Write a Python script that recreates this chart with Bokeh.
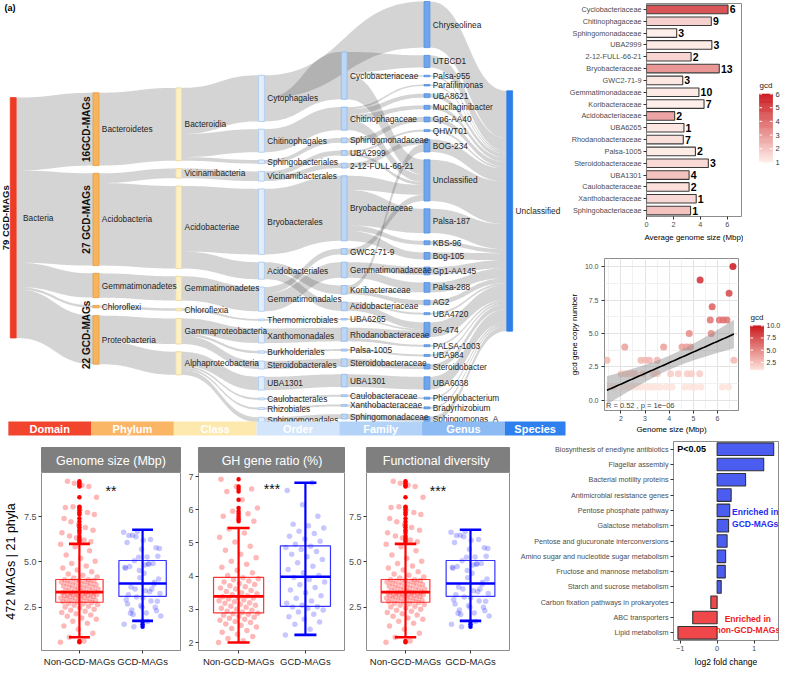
import numpy as np
from collections import defaultdict
from bokeh.plotting import figure
from bokeh.models import (Range1d, FactorRange, LinearColorMapper, FixedTicker, Label,
                          PrintfTickFormatter, ColumnDataSource)
from bokeh.layouts import row, column
from bokeh.embed import file_html
from bokeh.resources import INLINE
from bokeh.core.properties import value

FONT = "Liberation Sans"

# ------------------------------------------------------------------ (a) Sankey data
stage_names = ["Domain", "Phylum", "Class", "Order", "Family", "Genus", "Species"]
domain_nodes = ["Bacteria"]
domain_vals = [99]
phylum_nodes = ["Bacteroidetes", "Acidobacteria", "Gemmatimonadetes", "Chloroflexi", "Proteobacteria"]
phylum_vals = [30, 38, 10, 1, 20]
class_nodes = ["Bacteroidia", "Vicinamibacteria", "Acidobacteriae", "Gemmatimonadetes",
               "Chloroflexia", "Gammaproteobacteria", "Alphaproteobacteria"]
class_vals = [30, 4, 34, 10, 1, 10.5, 9.5]
order_nodes = ["Cytophagales", "Chitinophagales", "Sphingobacteriales", "Vicinamibacterales",
               "Bryobacterales", "Acidobacteriales", "Gemmatimonadales", "Thermomicrobiales",
               "Xanthomonadales", "Burkholderiales", "Steroidobacterales", "UBA1301",
               "Caulobacterales", "Rhizobiales", "Sphingomonadales"]
order_vals = [19, 9.5, 1.5, 4, 27, 7, 10, 0.7, 6, 1, 3.3, 5.5, 0.8, 0.8, 2]
family_nodes = ["Cyclobacteriaceae", "Chitinophagaceae", "Sphingomonadaceae#1", "UBA2999",
                "2-12-FULL-66-21", "Bryobacteraceae", "GWC2-71-9", "Gemmatimonadaceae",
                "Koribacteraceae", "Acidobacteriaceae", "UBA6265", "Rhodanobacteraceae",
                "Palsa-1005", "Steroidobacteraceae", "UBA1301", "Caulobacteraceae",
                "Xanthobacteraceae", "Sphingomonadaceae#2"]
family_vals = [19.5, 9.5, 2, 2, 2, 26.8, 2.4, 6.4, 3.6, 3.6, 0.6, 5.6, 0.8, 3.2, 5.2, 0.8, 0.8, 2]
genus_nodes = ["Chryseolinea", "UTBCD1", "Palsa-955", "Parafilimonas", "UBA8621",
               "Mucilaginibacter", "Gp6-AA40", "QHWT01", "BOG-234", "Unclassified",
               "Palsa-187", "KBS-96", "Bog-105", "Gp1-AA145", "Palsa-288", "AG2", "UBA4720",
               "66-474", "PALSA-1003", "UBA984", "Steroidobacter", "UBA6038",
               "Phenylobacterium", "Bradyrhizobium", "Sphingomonas_A"]
genus_vals = [19, 5, 0.6, 0.6, 1.6, 1.6, 2, 0.8, 5.2, 17, 10, 1.6, 2.8, 3.2, 4, 2, 0.8,
              6, 0.8, 0.8, 2, 5.2, 0.8, 0.8, 2]
species_nodes = ["Unclassified"]
species_vals = [99]

phylum_class_links = [("Bacteroidetes", "Bacteroidia", 30), ("Acidobacteria", "Vicinamibacteria", 4),
                      ("Acidobacteria", "Acidobacteriae", 34), ("Gemmatimonadetes", "Gemmatimonadetes", 10),
                      ("Chloroflexi", "Chloroflexia", 1), ("Proteobacteria", "Gammaproteobacteria", 10.5),
                      ("Proteobacteria", "Alphaproteobacteria", 9.5)]
class_order_links = [("Bacteroidia", "Cytophagales", 19), ("Bacteroidia", "Chitinophagales", 9.5),
                     ("Bacteroidia", "Sphingobacteriales", 1.5), ("Vicinamibacteria", "Vicinamibacterales", 4),
                     ("Acidobacteriae", "Bryobacterales", 27), ("Acidobacteriae", "Acidobacteriales", 7),
                     ("Gemmatimonadetes", "Gemmatimonadales", 10), ("Chloroflexia", "Thermomicrobiales", 0.7),
                     ("Gammaproteobacteria", "Xanthomonadales", 6), ("Gammaproteobacteria", "Burkholderiales", 1),
                     ("Gammaproteobacteria", "Steroidobacterales", 3.3), ("Alphaproteobacteria", "UBA1301", 5.5),
                     ("Alphaproteobacteria", "Caulobacterales", 0.8), ("Alphaproteobacteria", "Rhizobiales", 0.8),
                     ("Alphaproteobacteria", "Sphingomonadales", 2)]
order_family_links = [("Cytophagales", "Cyclobacteriaceae", 19.5), ("Chitinophagales", "Chitinophagaceae", 9.5),
                      ("Sphingobacteriales", "Sphingomonadaceae#1", 2), ("Vicinamibacterales", "UBA2999", 2),
                      ("Vicinamibacterales", "2-12-FULL-66-21", 2), ("Bryobacterales", "Bryobacteraceae", 27),
                      ("Acidobacteriales", "Koribacteraceae", 3.5), ("Acidobacteriales", "Acidobacteriaceae", 3.5),
                      ("Gemmatimonadales", "GWC2-71-9", 2.5), ("Gemmatimonadales", "Gemmatimonadaceae", 6.5),
                      ("Thermomicrobiales", "UBA6265", 0.7), ("Xanthomonadales", "Rhodanobacteraceae", 5.5),
                      ("Burkholderiales", "Palsa-1005", 0.8), ("Steroidobacterales", "Steroidobacteraceae", 3.2),
                      ("UBA1301", "UBA1301", 5.2), ("Caulobacterales", "Caulobacteraceae", 0.8),
                      ("Rhizobiales", "Xanthobacteraceae", 0.8), ("Sphingomonadales", "Sphingomonadaceae#2", 2)]
order_genus_links = [("Cytophagales", "Chryseolinea", 19)]
family_genus_links = [("Cyclobacteriaceae", "UTBCD1", 5), ("Cyclobacteriaceae", "Palsa-955", 0.6),
                      ("Cyclobacteriaceae", "Unclassified", 6), ("Chitinophagaceae", "Parafilimonas", 0.6),
                      ("Chitinophagaceae", "UBA8621", 1.6), ("Chitinophagaceae", "Mucilaginibacter", 1.6),
                      ("Chitinophagaceae", "Unclassified", 3), ("Sphingomonadaceae#1", "Gp6-AA40", 2),
                      ("UBA2999", "QHWT01", 0.8), ("UBA2999", "Unclassified", 1.2),
                      ("2-12-FULL-66-21", "BOG-234", 2), ("Bryobacteraceae", "Unclassified", 4),
                      ("Bryobacteraceae", "Palsa-187", 10), ("Bryobacteraceae", "KBS-96", 1.6),
                      ("Bryobacteraceae", "Bog-105", 2.8), ("GWC2-71-9", "Unclassified", 2.5),
                      ("Gemmatimonadaceae", "Gp1-AA145", 3.2), ("Gemmatimonadaceae", "Palsa-288", 3.3),
                      ("Koribacteraceae", "BOG-234", 3.2), ("Koribacteraceae", "Palsa-288", 0.7),
                      ("Koribacteraceae", "AG2", 2), ("Acidobacteriaceae", "UBA4720", 0.8),
                      ("Acidobacteriaceae", "66-474", 2.7), ("UBA6265", "66-474", 0.7),
                      ("Rhodanobacteraceae", "66-474", 2.6), ("Rhodanobacteraceae", "PALSA-1003", 0.8),
                      ("Palsa-1005", "UBA984", 0.8), ("Steroidobacteraceae", "Steroidobacter", 2),
                      ("UBA1301", "UBA6038", 5.2), ("Caulobacteraceae", "Phenylobacterium", 0.8),
                      ("Xanthobacteraceae", "Bradyrhizobium", 0.8), ("Sphingomonadaceae#2", "Sphingomonas_A", 2)]
gcd_labels = ["16GCD-MAGs", "27 GCD-MAGs", "22 GCD-MAGs"]
gcd_label_phyla = [["Bacteroidetes"], ["Acidobacteria"], ["Chloroflexi", "Proteobacteria"]]
total_label = "79 CGD-MAGs"

# ------------------------------------------------------------------ (b) data
b_families = ["Cyclobacteriaceae", "Chitinophagaceae", "Sphingomonadaceae", "UBA2999",
              "2-12-FULL-66-21", "Bryobacteraceae", "GWC2-71-9", "Gemmatimonadaceae",
              "Koribacteraceae", "Acidobacteriaceae", "UBA6265", "Rhodanobacteraceae",
              "Palsa-1005", "Steroidobacteraceae", "UBA1301", "Caulobacteraceae",
              "Xanthobacteraceae", "Sphingobacteriaceae"]
b_size = [6.05, 4.81, 2.24, 4.85, 3.31, 5.40, 2.69, 3.89, 4.27, 2.09, 2.78, 2.73,
          3.63, 4.59, 3.16, 3.16, 3.69, 3.27]
b_count = [6, 9, 3, 3, 2, 13, 3, 10, 7, 2, 1, 7, 2, 3, 4, 2, 1, 1]
b_gcd = [5.3, 1.9, 1.1, 1.2, 1.8, 3.5, 1.3, 1.25, 1.1, 3.1, 1.3, 1.5, 1.2, 1.7, 2.3, 1.5, 1.7, 2.3]

# ------------------------------------------------------------------ (c) data
scatter_genome = [6.64, 5.28, 6.48, 5.78, 5.70, 6.08, 6.24, 6.39, 5.74, 4.83, 2.16, 3.77, 4.53,
                  4.71, 4.88, 1.42, 2.83, 3.02, 3.18, 3.50, 6.68, 2.01, 2.18, 2.34, 2.49, 2.59,
                  2.91, 3.35, 3.50, 4.06, 4.38, 4.75, 4.92, 5.26, 1.55, 1.71, 2.09, 2.30, 2.49,
                  2.68, 2.84, 3.06, 3.25, 3.40, 3.62, 3.88, 4.12, 4.65, 4.88, 5.07, 5.32, 6.20, 6.46]
scatter_gcd = [10, 9, 8, 7, 6, 6, 6, 6, 5, 5, 4, 4, 4, 4, 4, 3, 3, 3, 3, 3, 3,
               2, 2, 2, 2, 2, 2, 2, 2, 2, 2, 2, 2, 2,
               1, 1, 1, 1, 1, 1, 1, 1, 1, 1, 1, 1, 1, 1, 1, 1, 1, 1, 1]
stat_text = "R = 0.52 , p = 1e\u221206"

# ------------------------------------------------------------------ (d) data
box_groups = ["Non-GCD-MAGs", "GCD-MAGs"]
facet_titles = ["Genome size (Mbp)", "GH gene ratio (%)", "Functional  diversity"]
facet_sig = ["**", "***", "***"]
nongcd_genome = [0.55, 0.62, 0.83, 1.05, 1.28, 1.45, 1.61, 1.72, 1.83, 1.90, 1.99, 2.06, 2.14,
                 2.20, 2.27, 2.33, 2.38, 2.45, 2.51, 2.55, 2.61, 2.64, 2.69, 2.72, 2.75,
                 2.79, 2.80, 2.84, 2.87, 2.88, 2.92, 2.95, 2.96, 3.00, 3.01, 3.05, 3.07, 3.09,
                 3.12, 3.13, 3.16, 3.18, 3.19, 3.22, 3.23, 3.26, 3.27, 3.29, 3.31, 3.32,
                 3.35, 3.39, 3.41, 3.45, 3.47, 3.51, 3.53, 3.57, 3.60, 3.62, 3.66, 3.69, 3.71,
                 3.75, 3.77, 3.81, 3.83, 3.87, 3.89, 3.93, 3.95, 3.97, 3.99, 4.01, 4.02,
                 4.11, 4.17, 4.27, 4.34, 4.46, 4.55, 4.67, 4.77, 4.91, 5.04, 5.21, 5.38, 5.62,
                 5.84, 5.98, 6.21, 6.44, 6.76, 7.04, 7.41, 7.74, 8.05, 8.58, 9.24, 9.46,
                 6.12, 6.33, 6.62, 6.91, 7.22, 7.63, 7.88, 8.01, 9.18, 9.36]
nongcd_gh = [2.00, 2.05, 2.12, 2.18, 2.25, 2.31, 2.36, 2.42, 2.47, 2.52, 2.56, 2.60, 2.63,
             2.67, 2.70, 2.73, 2.76, 2.79, 2.82, 2.85, 2.87, 2.88,
             2.91, 2.94, 2.97, 3.00, 3.03, 3.06, 3.09, 3.12, 3.15, 3.18, 3.20, 3.23, 3.26,
             3.29, 3.31, 3.34, 3.36, 3.38,
             3.41, 3.44, 3.47, 3.50, 3.54, 3.57, 3.61, 3.64, 3.68, 3.71, 3.75, 3.78, 3.82,
             3.85, 3.89, 3.92, 3.95,
             4.02, 4.10, 4.18, 4.27, 4.36, 4.45, 4.55, 4.66, 4.78, 4.90, 5.03, 5.17, 5.30,
             5.42, 5.65, 5.72, 5.80, 5.88, 5.95, 6.05, 6.30, 6.55, 6.62, 6.70, 6.92]
gcd_gh = [2.23, 2.40, 2.55, 2.62, 2.70, 2.78, 2.85, 2.92, 2.98, 3.03, 3.07, 3.08,
          3.12, 3.18, 3.25, 3.33, 3.41, 3.50, 3.58, 3.66, 3.74, 3.82, 3.90, 3.96,
          4.02, 4.10, 4.20, 4.30, 4.40, 4.50, 4.58, 4.66, 4.74, 4.80, 4.86, 4.90,
          4.96, 5.05, 5.12, 5.20, 5.28, 5.35, 5.45, 5.52, 5.56, 5.80, 6.15, 6.58, 6.81]
# box statistics: [non-GCD, GCD]
gs_q1, gs_med, gs_q3, gs_lo, gs_hi = [2.77, 3.09], [3.33, 3.81], [4.03, 5.08], [0.83, 1.74], [6.00, 6.78]
gh_q1, gh_med, gh_q3, gh_lo, gh_hi = [2.89, 3.09], [3.39, 3.98], [3.96, 4.91], [2.00, 2.23], [5.45, 6.81]

# ------------------------------------------------------------------ (e) data
e_paths = ["Biosynthesis of enediyne antibiotics", "Flagellar assembly", "Bacterial motility proteins",
           "Antimicrobial resistance genes", "Pentose phosphate pathway", "Galactose metabolism",
           "Pentose and glucuronate interconversions", "Amino sugar and nucleotide sugar metabolism",
           "Fructose and mannose metabolism", "Starch and sucrose metabolism",
           "Carbon fixation pathways in prokaryotes", "ABC transporters", "Lipid metabolism"]
e_lfc = [1.53, 1.26, 0.77, 0.38, 0.34, 0.31, 0.27, 0.23, 0.22, 0.11, -0.17, -0.66, -1.06]


# ------------------------------------------------------------------ helpers
def ramp(c0, c1, n=256):
    a = np.array([int(c0[i:i + 2], 16) for i in (1, 3, 5)], float)
    b = np.array([int(c1[i:i + 2], 16) for i in (1, 3, 5)], float)
    return ["#%02x%02x%02x" % tuple(int(round(v)) for v in a + (b - a) * t) for t in np.linspace(0, 1, n)]


def style_axes(p, tick_size="7.5px", label_size="8.5px", tick_color="#4D4D4D"):
    for ax in p.axis:
        ax.major_label_text_font = FONT
        ax.major_label_text_font_size = tick_size
        ax.major_label_text_color = tick_color
        ax.axis_label_text_font = FONT
        ax.axis_label_text_font_size = label_size
        ax.axis_label_text_font_style = "normal"
        ax.axis_label_text_color = "#000000"
        ax.axis_line_color = None
        ax.major_tick_line_color = "#333333"
        ax.major_tick_out = 3
        ax.major_tick_in = 0
        ax.minor_tick_line_color = None
        ax.major_label_standoff = 2
        ax.axis_label_standoff = 3


def fig(**kw):
    p = figure(output_backend="svg", toolbar_location=None, **kw)
    p.border_fill_color = "white"
    p.background_fill_color = "white"
    return p


def legend_fig(mapper, ticks, fmt, frac_lo, frac_hi, width, height, top, bottom, lab_size, left_gap):
    # colour-bar legend drawn in its own small plot; frac_* = bar ends as fraction of frame height
    vmin, vmax = mapper.low, mapper.high
    span = (vmax - vmin) / (frac_hi - frac_lo)
    lg = fig(width=width, height=height, x_range=Range1d(0, width),
             y_range=Range1d(vmin - frac_lo * span, vmax + (1 - frac_hi) * span),
             x_axis_location=None, y_axis_location=None, min_border_left=0, min_border_right=0,
             min_border_top=top, min_border_bottom=bottom)
    lg.grid.visible = False
    lg.outline_line_color = None
    edges = np.linspace(vmin, vmax, 61)
    src = ColumnDataSource(dict(b0=edges[:-1], b1=edges[1:], mid=(edges[:-1] + edges[1:]) / 2))
    lg.quad(left=left_gap, right=left_gap + 13, bottom="b0", top="b1", source=src,
            fill_color={"field": "mid", "transform": mapper},
            line_color={"field": "mid", "transform": mapper}, line_width=0.6)
    lg.segment(x0=[left_gap] * len(ticks), x1=[left_gap + 2.6] * len(ticks), y0=ticks, y1=ticks,
               line_color="white", line_width=1)
    lg.segment(x0=[left_gap + 10.4] * len(ticks), x1=[left_gap + 13] * len(ticks), y0=ticks, y1=ticks,
               line_color="white", line_width=1)
    lg.text(x=[left_gap + 16] * len(ticks), y=ticks, text=[fmt % tk for tk in ticks],
            text_font=value(FONT), text_font_size=lab_size, text_baseline="middle",
            text_color="#333333")
    lg.text(x=[left_gap], y=[vmax], y_offset=-4, text=["gcd"], text_font=value(FONT),
            text_font_size="8px", text_baseline="bottom", text_color="#1A1A1A")
    return lg


# ------------------------------------------------------------------ (a) Sankey layout
stage_nodes = [domain_nodes, phylum_nodes, class_nodes, order_nodes, family_nodes, genus_nodes, species_nodes]
stage_vals = [domain_vals, phylum_vals, class_vals, order_vals, family_vals, genus_vals, species_vals]
stage_top = [100, 95, 90, 77, 53, 1, 93]
UNIT, GAP, NODE_W, X0, DX = 2.5, 8, 6, 10, 84.5
BAND_TOP, BAND_BOT = 433.5, 448
node_fill = ["#EE3B24", "#F9B35B", "#FDF0C4", "#E2EDFA", "#BCD6F6", "#6EA6EE", "#2C7EEA"]
node_line = ["#EE3B24", "#E39A40", "#E9D592", "#A9C6EC", "#8DB6EC", "#4F8EE6", "#2C7EEA"]
band_fill = ["#F2452D", "#FBB665", "#FDE9AE", "#D3E5FA", "#B3D2F7", "#8CBBF3", "#2E80EE"]

pos = {}
for s, (names, vals) in enumerate(zip(stage_nodes, stage_vals)):
    y = stage_top[s]
    for n, v in zip(names, vals):
        h = v * UNIT
        pos[(s, n)] = (X0 + s * DX, X0 + s * DX + NODE_W, y, y + h)
        y += h + GAP

links = []
links += [(0, "Bacteria", 1, p_, v) for p_, v in zip(phylum_nodes, phylum_vals)]
links += [(1, a, 2, b_, v) for a, b_, v in phylum_class_links]
links += [(2, a, 3, b_, v) for a, b_, v in class_order_links]
links += [(3, a, 4, b_, v) for a, b_, v in order_family_links]
links += [(3, a, 5, b_, v) for a, b_, v in order_genus_links]
links += [(4, a, 5, b_, v) for a, b_, v in family_genus_links]
links += [(5, g, 6, "Unclassified", v) for g, v in zip(genus_nodes, genus_vals)]


def cy(key):
    _, _, y0, y1 = pos[key]
    return (y0 + y1) / 2


outl, inl = defaultdict(list), defaultdict(list)
for i, (ss, sn, ts, tn, v) in enumerate(links):
    outl[(ss, sn)].append(i)
    inl[(ts, tn)].append(i)
src_span, tgt_span = {}, {}
for key, idx in outl.items():
    idx.sort(key=lambda i: cy((links[i][2], links[i][3])))
    tot = sum(links[i][4] for i in idx)
    _, _, y0, y1 = pos[key]
    y = y0
    for i in idx:
        h = links[i][4] / tot * (y1 - y0)
        src_span[i] = (y, y + h)
        y += h
for key, idx in inl.items():
    idx.sort(key=lambda i: cy((links[i][0], links[i][1])))
    tot = sum(links[i][4] for i in idx)
    _, _, y0, y1 = pos[key]
    y = y0
    for i in idx:
        h = links[i][4] / tot * (y1 - y0)
        tgt_span[i] = (y, y + h)
        y += h

t = np.linspace(0, 1, 40)
B0, B1, B2, B3 = (1 - t) ** 3, 3 * (1 - t) ** 2 * t, 3 * (1 - t) * t ** 2, t ** 3
rx, ry = [], []
for i, (ss, sn, ts, tn, v) in enumerate(links):
    xa = pos[(ss, sn)][1]
    xb = pos[(ts, tn)][0]
    xm = (xa + xb) / 2
    bx = B0 * xa + (B1 + B2) * xm + B3 * xb
    (sa0, sa1), (tb0, tb1) = src_span[i], tgt_span[i]
    top = (B0 + B1) * sa0 + (B2 + B3) * tb0
    bot = (B0 + B1) * sa1 + (B2 + B3) * tb1
    rx.append(np.concatenate([bx, bx[::-1]]))
    ry.append(np.concatenate([top, bot[::-1]]))

sk = fig(width=566, height=436, x_range=Range1d(0, 578), y_range=Range1d(449, 0),
         x_axis_location=None, y_axis_location=None, min_border=0)
sk.grid.visible = False
sk.outline_line_color = None
sk.patches(rx, ry, fill_color="#3C3C3C", fill_alpha=0.22, line_color=None)

nl, nr, nt, nb, nf, nc = [], [], [], [], [], []
lx, ly, lt = [], [], []
for s, names in enumerate(stage_nodes):
    for n in names:
        x0, x1, y0, y1 = pos[(s, n)]
        nl.append(x0); nr.append(x1); nt.append(y0); nb.append(max(y1, y0 + 1.2))
        nf.append(node_fill[s]); nc.append(node_line[s])
        lx.append(x1 + (7 if s == 0 else 3))
        ly.append((y0 + y1) / 2)
        lt.append(n.split("#")[0])
sk.quad(left=nl, right=nr, top=nt, bottom=nb, fill_color=nf, line_color=nc, line_width=0.8)
sk.text(x=lx, y=ly, text=lt, text_font=value(FONT), text_font_size="8.3px",
        text_baseline="middle", text_align="left", text_color="#1E1E1E")

# rotated GCD labels
gx, gy = [], []
for names in gcd_label_phyla:
    y0 = pos[(1, names[0])][2]
    y1 = pos[(1, names[-1])][3]
    gx.append(pos[(1, names[0])][0] - 6.5)
    gy.append((y0 + y1) / 2)
sk.text(x=gx, y=gy, text=gcd_labels, angle=np.pi / 2, text_font=value(FONT),
        text_font_size="10px", text_font_style="bold", text_align="center",
        text_baseline="middle", text_color="#111111")
sk.text(x=[5.5], y=[cy((0, "Bacteria"))], text=[total_label], angle=np.pi / 2, text_font=value(FONT),
        text_font_size="9.5px", text_font_style="bold", text_align="center",
        text_baseline="middle", text_color="#111111")

# stage band
cl = [X0 - 2 + s * DX for s in range(7)]
cr = [X0 - 2 + (s + 1) * DX for s in range(6)] + [X0 - 2 + 6 * DX + 62]
sk.quad(left=cl, right=cr, top=[BAND_TOP] * 7, bottom=[BAND_BOT] * 7, fill_color=band_fill, line_color=None)
sk.text(x=[(a + b_) / 2 for a, b_ in zip(cl, cr)], y=[(BAND_TOP + BAND_BOT) / 2 + 0.5] * 7,
        text=stage_names, text_font=value(FONT), text_font_size="11px", text_font_style="bold",
        text_color="white", text_align="center", text_baseline="middle")
sk.text(x=[4], y=[8], text=["(a)"], text_font=value(FONT), text_font_size="9px",
        text_font_style="bold", text_baseline="middle")

# ------------------------------------------------------------------ (b)
bmap = LinearColorMapper(palette=ramp("#FFF0EA", "#CB181D"), low=1, high=6)
b = fig(width=177, height=244, y_range=FactorRange(factors=b_families[::-1]), x_range=Range1d(0, 7.05),
        min_border_left=67, min_border_right=2, min_border_top=3, min_border_bottom=2)
bsrc = ColumnDataSource(dict(fam=b_families, size=b_size, gcd=b_gcd,
                             lab=[str(c) for c in b_count], lx=[v + 0.12 for v in b_size]))
b.hbar(y="fam", left=0, right="size", height=0.72, source=bsrc,
       fill_color={"field": "gcd", "transform": bmap}, fill_alpha=0.85,
       line_color="#3A3A3A", line_width=1.1)
b.text(x="lx", y="fam", text="lab", source=bsrc, text_font=value(FONT), text_font_size="10.5px",
       text_font_style="bold", text_baseline="middle", text_color="#000000")
b.grid.visible = False
b.outline_line_color = "#8C8C8C"
b.xaxis.ticker = FixedTicker(ticks=[0, 2, 4, 6])
b.xaxis.axis_label = "Average genome size (Mbp)"
style_axes(b, tick_size="7.3px", label_size="7.9px")
b.add_layout(Label(x=-66, x_units="screen", y=len(b_families) - 0.5, y_units="data", text="(b)",
                   text_font=FONT, text_font_size="9px", text_font_style="bold",
                   text_baseline="middle"))
bleg = legend_fig(bmap, [1, 2, 3, 4, 5, 6], "%d", 0.254, 0.575, 38, 244, 3, 27, "7.5px", 16)

# ------------------------------------------------------------------ (c)
cmap = LinearColorMapper(palette=ramp("#FDE3DA", "#CB181D"), low=1, high=10)
c = fig(width=174, height=192, x_range=Range1d(1.32, 6.87), y_range=Range1d(-0.75, 10.6),
        min_border_left=31, min_border_right=2, min_border_top=14, min_border_bottom=2)
gx_ = np.array(scatter_genome, float)
gy_ = np.array(scatter_gcd, float)
slope, icpt = np.polyfit(gx_, gy_, 1)
xs = np.linspace(gx_.min(), gx_.max(), 80)
res = gy_ - (slope * gx_ + icpt)
n_ = len(gx_)
mse = (res ** 2).sum() / (n_ - 2)
se = np.sqrt(mse * (1 / n_ + (xs - gx_.mean()) ** 2 / ((gx_ - gx_.mean()) ** 2).sum()))
yfit = slope * xs + icpt
c.scatter(gx_, gy_, size=7, fill_color={"field": "y", "transform": cmap}, fill_alpha=0.85,
          line_color=None)
c.varea(x=xs, y1=yfit - 2.01 * se, y2=yfit + 2.01 * se, fill_color="#8C8C8C", fill_alpha=0.45)
c.line(xs, yfit, line_color="black", line_width=1.6)
c.xaxis.ticker = FixedTicker(ticks=[2, 3, 4, 5, 6], minor_ticks=[1.5, 2.5, 3.5, 4.5, 5.5, 6.5])
c.yaxis.ticker = FixedTicker(ticks=[0, 2.5, 5, 7.5, 10], minor_ticks=[1.25, 3.75, 6.25, 8.75])
c.yaxis.formatter = PrintfTickFormatter(format="%.1f")
c.xgrid.grid_line_color = "#E3E3E3"
c.ygrid.grid_line_color = "#E3E3E3"
c.xgrid.minor_grid_line_color = "#F1F1F1"
c.ygrid.minor_grid_line_color = "#F1F1F1"
c.outline_line_color = "#8C8C8C"
c.xaxis.axis_label = "Genome size (Mbp)"
c.yaxis.axis_label = "gcd gene copy number"
style_axes(c, tick_size="7px", label_size="8px")
c.xaxis.axis_label_standoff = 1
c.xaxis.major_label_standoff = 1
c.add_layout(Label(x=1.38, y=-0.35, text=stat_text, text_font=FONT, text_font_size="7.5px",
                   text_baseline="middle"))
c.add_layout(Label(x=-30, x_units="screen", y=10.0, y_units="data", text="(c)",
                   text_font=FONT, text_font_size="9px", text_font_style="bold",
                   text_baseline="middle"))
cleg = legend_fig(cmap, [2.5, 5.0, 7.5, 10.0], "%.1f", 0.269, 0.557, 41, 192, 14, 22, "7px", 10)

# ------------------------------------------------------------------ (d)
group_colors = ["#FF0000", "#0000FF"]


def jitter(n, width):
    return ((np.arange(n) * 0.6180339887498949) % 1.0 - 0.5) * 2 * width


def strip(title, width, left, right, tag=None):
    s = fig(width=width, height=36, x_range=Range1d(0, 1), y_range=Range1d(0, 1),
            x_axis_location=None, y_axis_location=None, min_border_left=left,
            min_border_right=right, min_border_top=11, min_border_bottom=0)
    s.grid.visible = False
    s.background_fill_color = "#7F7F7F"
    s.outline_line_color = "#7F7F7F"
    s.text(x=[0.5], y=[0.47], text=[title], text_align="center", text_baseline="middle",
           text_color="white", text_font=value(FONT), text_font_size="12.5px")
    if tag:
        s.add_layout(Label(x=-left + 3, x_units="screen", y=0.5, y_units="data", text=tag,
                           text_font=FONT, text_font_size="9px", text_font_style="bold",
                           text_baseline="middle"))
    return s


def box_panel(groups_vals, stats, ylim, yticks, fmt, sig, sig_y, width, left, right, ylabel=None):
    p = fig(width=width, height=197, x_range=Range1d(0.4, 2.6), y_range=Range1d(*ylim),
            min_border_left=left, min_border_right=right, min_border_top=0, min_border_bottom=2)
    p.grid.visible = False
    p.outline_line_color = "#8C8C8C"
    q1, med, q3, lo, hi = stats
    for gi, (vals, col) in enumerate(zip(groups_vals, group_colors)):
        xc = gi + 1
        v = np.asarray(vals, float)
        p.scatter(xc + jitter(len(v), 0.3), v, size=5.5, fill_color=col,
                  fill_alpha=0.28 if gi == 0 else 0.22, line_color=None)
        p.segment(x0=[xc], y0=[lo[gi]], x1=[xc], y1=[hi[gi]], line_color=col, line_width=2.2)
        p.quad(left=[xc - 0.375], right=[xc + 0.375], bottom=[q1[gi]], top=[q3[gi]],
               fill_color=None, line_color=col, line_width=1.2, line_alpha=0.8)
        p.segment(x0=[xc - 0.375], x1=[xc + 0.375], y0=[med[gi]], y1=[med[gi]],
                  line_color=col, line_width=2.6)
        p.segment(x0=[xc - 0.165, xc - 0.165], x1=[xc + 0.165, xc + 0.165],
                  y0=[lo[gi], hi[gi]], y1=[lo[gi], hi[gi]], line_color=col, line_width=2.6)
        out = v[(v > hi[gi]) | (v < lo[gi])]
        p.scatter([xc] * len(out), out, size=4.5, fill_color=col, line_color=None)
    p.text(x=[1.5], y=[sig_y], text=[sig], text_align="center", text_baseline="middle",
           text_font=value(FONT), text_font_size="14px", text_color="#111111")
    p.xaxis.ticker = FixedTicker(ticks=[1, 2])
    p.xaxis.major_label_overrides = {1: box_groups[0], 2: box_groups[1]}
    p.yaxis.ticker = FixedTicker(ticks=yticks)
    p.yaxis.formatter = PrintfTickFormatter(format=fmt)
    if ylabel:
        p.yaxis.axis_label = ylabel
    style_axes(p, tick_size="9px", label_size="12.5px")
    p.xaxis.major_label_text_font_size = "9.5px"
    p.xaxis.major_label_text_color = "#222222"
    return p


gs_stats = (gs_q1, gs_med, gs_q3, gs_lo, gs_hi)
gh_stats = (gh_q1, gh_med, gh_q3, gh_lo, gh_hi)
s1 = strip(facet_titles[0], 184, 34, 4, tag="(d)")
d1 = box_panel([nongcd_genome, scatter_genome], gs_stats, (0.1, 9.95), [2.5, 5.0, 7.5], "%.1f",
               facet_sig[0], 8.95, 184, 34, 4, ylabel="472 MAGs | 21 phyla")
s2 = strip(facet_titles[1], 161, 14, 0)
d2 = box_panel([nongcd_gh, gcd_gh], gh_stats, (1.76, 7.12), [2, 3, 4, 5, 6, 7], "%d",
               facet_sig[1], 6.62, 161, 14, 0)
s3 = strip(facet_titles[2], 172, 16, 8)
d3 = box_panel([nongcd_genome, scatter_genome], gs_stats, (0.1, 9.95), [2.5, 5.0, 7.5], "%.1f",
               facet_sig[2], 8.95, 172, 16, 8)

# ------------------------------------------------------------------ (e)
e = fig(width=264, height=233, y_range=FactorRange(factors=e_paths[::-1]), x_range=Range1d(-1.18, 1.66),
        min_border_left=142, min_border_right=3, min_border_top=5, min_border_bottom=2)
e.hbar(y=e_paths, left=0, right=e_lfc, height=0.82,
       fill_color=["#4B5CF0" if v > 0 else "#F0474A" for v in e_lfc],
       line_color="#333333", line_width=1.1)
e.grid.visible = False
e.outline_line_color = "#8C8C8C"
e.xaxis.ticker = FixedTicker(ticks=[-1, 0, 1])
e.xaxis.axis_label = "log2 fold change"
style_axes(e, tick_size="7.5px", label_size="8.5px")
e.yaxis.major_label_text_font_size = "7.2px"
ne = len(e_paths)
e.text(x=[-1.08], y=[ne - 0.5], text=["P<0.05"], text_font=value(FONT), text_font_size="9px",
       text_font_style="bold", text_baseline="middle")
e.text(x=[1.03, 0.83], y=[8.0, 1.05], text=["Enriched in\nGCD-MAGs", "Enriched in\nnon-GCD-MAGs"],
       text_color=["#1F2BF5", "#F01A1A"], text_font=value(FONT), text_font_size="8.5px",
       text_font_style="bold", text_align="center", text_baseline="middle", text_line_height=1.15)
e.add_layout(Label(x=-139, x_units="screen", y=ne - 0.5, y_units="data", text="(e)",
                   text_font=FONT, text_font_size="9px", text_font_style="bold",
                   text_baseline="middle"))

layout = column(row(sk, column(row(b, bleg), row(c, cleg))),
                row(column(s1, d1), column(s2, d2), column(s3, d3), e))
open("out.html", "w").write(file_html(layout, INLINE))
